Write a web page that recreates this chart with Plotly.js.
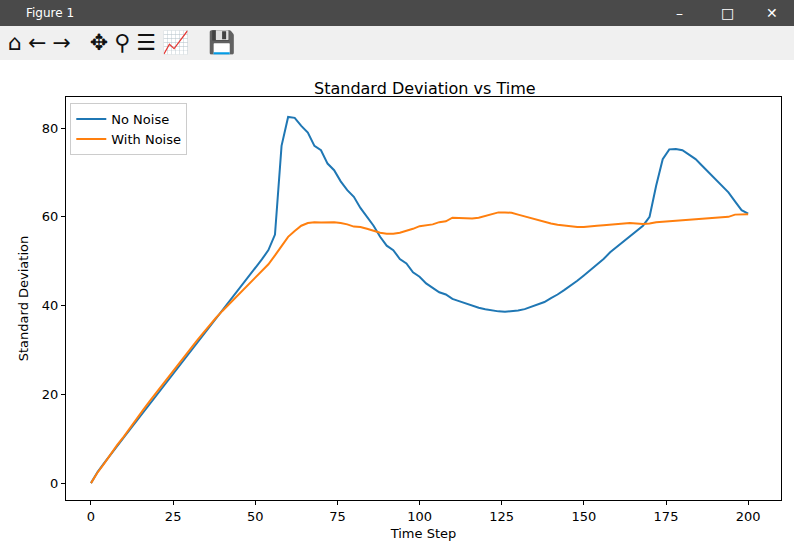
<!DOCTYPE html>
<html>
<head>
<meta charset="utf-8">
<script src="https://cdn.plot.ly/plotly-3.0.1.min.js"></script>
<style>
  body { margin: 0; width: 794px; height: 558px; overflow: hidden; background: #fff; font-family: "DejaVu Sans", sans-serif; }
  #titlebar { height: 26px; background: #4a4a4a; color: #fff; font-size: 12px; line-height: 26px; padding-left: 26px; position: relative; }
  #titlebar .ctl { position: absolute; top: 0; font-size: 14px; }
  #toolbar { height: 34px; background: #f0f0f0; font-size: 22px; line-height: 34px; padding-left: 8px; letter-spacing: 6px; color: #111; }
  #chart { width: 794px; height: 498px; }
</style>
</head>
<body>
<div id="titlebar">Figure 1
  <span class="ctl" style="left:676px">&#8211;</span>
  <span class="ctl" style="left:721px">&#9633;</span>
  <span class="ctl" style="left:766px">&#10005;</span>
</div>
<div id="toolbar">&#8962;&#8592;&#8594; &#10021;&#9906;&#9776;&#128200; &#128190;</div>
<div id="chart"></div>
<script>
const steps = [];
for (let i = 0; i <= 200; i += 2) steps.push(i);

const noNoise = [
  0, 2.5, 4.5, 6.5, 8.5, 10.3, 12.2, 14.1, 16, 17.9, 19.8, 21.8, 23.7, 25.6, 27.5, 29.4, 31.3, 33.2, 35.1, 37,
  39, 40.9, 42.8, 44.7, 46.6, 48.5, 50.4, 52.5, 56, 76, 82.5, 82.3, 80.5, 79, 76, 75, 72, 70.5, 68, 66,
  64.5, 62, 60, 58, 55.5, 53.5, 52.5, 50.5, 49.5, 47.5, 46.5, 45, 44, 43, 42.5, 41.5, 41, 40.5, 40, 39.5,
  39.2, 38.9, 38.7, 38.6, 38.7, 38.9, 39.2, 39.7, 40.2, 40.8, 41.7, 42.5, 43.5, 44.5, 45.6, 46.8, 48, 49.3, 50.5, 52,
  53.2, 54.5, 55.8, 57, 58, 60, 67, 73, 75.2, 75.3, 75, 74, 73, 71.5, 70, 68.5, 67, 65.5, 63.5, 61.5, 60.7
];
const withNoise = [
  0, 2.4, 4.4, 6.6, 8.6, 10.5, 12.6, 14.6, 16.6, 18.6, 20.5, 22.5, 24.5, 26.4, 28.3, 30.1, 31.9, 33.7, 35.5, 37.2,
  38.8, 40.3, 41.8, 43.3, 44.8, 46.2, 47.6, 49.3, 51.3, 53.3, 55.5, 56.8, 58, 58.6, 58.8, 58.7, 58.8, 58.8, 58.6, 58.3,
  57.8, 57.7, 57.3, 56.8, 56.4, 56.2, 56.2, 56.4, 56.8, 57.3, 57.9, 58.1, 58.3, 58.8, 59, 59.8, 59.7, 59.6, 59.6, 59.8,
  60.2, 60.6, 61, 61, 60.9, 60.5, 60.1, 59.6, 59.2, 58.8, 58.5, 58.2, 58, 57.8, 57.7, 57.7, 57.9, 58, 58.1, 58.2,
  58.3, 58.4, 58.6, 58.5, 58.4, 58.5, 58.8, 58.9, 59, 59.1, 59.2, 59.3, 59.5, 59.6, 59.6, 59.7, 59.9, 60, 60.5, 60.6, 60.6
];
const seriesNames = ["No Noise", "With Noise"];

const FONT = { family: "DejaVu Sans, sans-serif", size: 13, color: "#000" };
const axisBase = {
  showgrid: false, zeroline: false, showline: true, mirror: true,
  linecolor: "#000", linewidth: 1, ticks: "outside", ticklen: 4, tickcolor: "#000",
  tickfont: FONT,
};

const traces = [
  { type: "scatter", mode: "lines", x: steps, y: noNoise, name: seriesNames[0], line: { color: "#1f77b4", width: 2 } },
  { type: "scatter", mode: "lines", x: steps, y: withNoise, name: seriesNames[1], line: { color: "#ff7f0e", width: 2 } },
];

const layout = {
  width: 794, height: 498,
  margin: { l: 66, r: 13, t: 37, b: 58 },
  paper_bgcolor: "#fff", plot_bgcolor: "#fff",
  font: FONT,
  title: { text: "Standard Deviation vs Time", font: { ...FONT, size: 16 }, x: 0.535, xanchor: "center", y: 0.955 },
  xaxis: { ...axisBase, range: [-7.6, 210], tickvals: [0, 25, 50, 75, 100, 125, 150, 175, 200],
    title: { text: "Time Step", font: FONT, standoff: 6 } },
  yaxis: { ...axisBase, range: [-3.8, 87], tickvals: [0, 20, 40, 60, 80],
    title: { text: "Standard Deviation", font: FONT, standoff: 10 } },
  legend: { x: 0.006, y: 0.985, xanchor: "left", yanchor: "top", bgcolor: "rgba(255,255,255,0.8)",
    bordercolor: "#ccc", borderwidth: 1, font: FONT },
  showlegend: true,
};

Plotly.newPlot("chart", traces, layout, { displayModeBar: false, staticPlot: true });
</script>
</body>
</html>
